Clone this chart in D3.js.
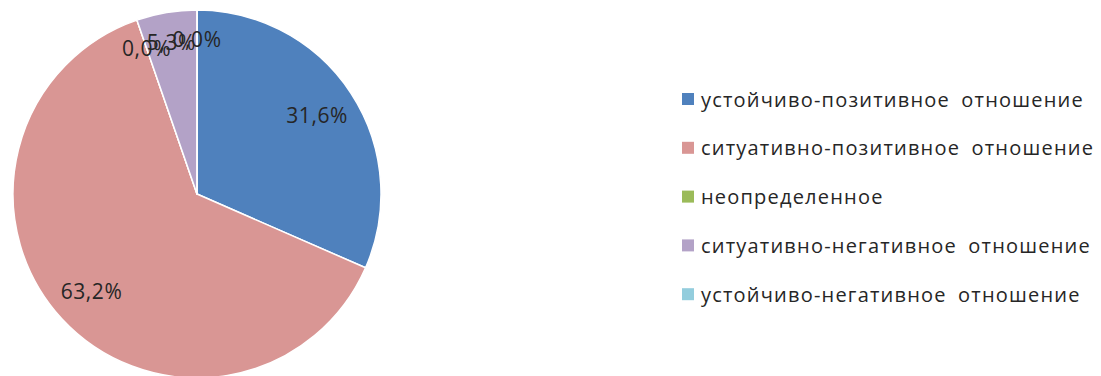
<!DOCTYPE html>
<html>
<head>
<meta charset="utf-8">
<script src="https://cdn.jsdelivr.net/npm/d3@7"></script>
<style>
  html, body { margin: 0; padding: 0; background: #fff; }
  svg { display: block; }
</style>
</head>
<body>
<svg id="chart" width="1101" height="376"></svg>
<script>
// Distribution of attitude types (share of respondents, %)
const categories = [
  "устойчиво-позитивное отношение",
  "ситуативно-позитивное отношение",
  "неопределенное",
  "ситуативно-негативное отношение",
  "устойчиво-негативное отношение"
];
const values = [31.6, 63.2, 0.0, 5.3, 0.0];
const colors = ["#4F81BD", "#D99694", "#9BBB59", "#B3A2C7", "#93CDDD"];

const width = 1101, height = 376;
const cx = 197, cy = 194, radius = 184;

const svg = d3.select("#chart");
const fmt = v => d3.format(".1f")(v).replace(".", ",") + "%";

const pie = d3.pie().sort(null).value(d => d.value);
const data = categories.map((c, i) => ({ name: c, value: values[i], color: colors[i] }));
const arcs = pie(data);

const arc = d3.arc().innerRadius(0).outerRadius(radius);

const g = svg.append("g").attr("transform", `translate(${cx},${cy})`);

g.selectAll("path.slice")
  .data(arcs)
  .join("path")
  .attr("class", "slice")
  .attr("d", arc)
  .attr("fill", d => d.data.color)
  .attr("stroke", "#fff")
  .attr("stroke-width", 1.5)
  .attr("stroke-linejoin", "round");

// data labels: large slices sit deeper inside, thin ones near the rim
const labelArc = d => {
  const k = d.data.value < 10 ? 0.84 : 0.78;
  return d3.arc().innerRadius(radius * k).outerRadius(radius * k).centroid(d);
};

g.selectAll("text.lbl")
  .data(arcs)
  .join("text")
  .attr("class", "lbl")
  .attr("x", d => labelArc(d)[0])
  .attr("y", d => labelArc(d)[1])
  .attr("text-anchor", "middle")
  .attr("dominant-baseline", "central")
  .attr("font-family", "'Open Sans', sans-serif")
  .attr("font-size", 21)
  .attr("letter-spacing", 0.6)
  .attr("fill", "#262626")
  .text(d => fmt(d.data.value));

// legend
const legend = svg.append("g").attr("transform", "translate(682,99)");
const rowH = 48.8;
const items = legend.selectAll("g.item")
  .data(data)
  .join("g")
  .attr("class", "item")
  .attr("transform", (d, i) => `translate(0,${i * rowH})`);

items.append("rect")
  .attr("x", 0)
  .attr("y", -6)
  .attr("width", 12)
  .attr("height", 12)
  .attr("fill", d => d.color);

items.append("text")
  .attr("x", 19)
  .attr("y", 0)
  .attr("dominant-baseline", "central")
  .attr("font-family", "'Open Sans', sans-serif")
  .attr("font-size", 20)
  .attr("letter-spacing", 1.2)
  .attr("word-spacing", 5)
  .attr("fill", "#262626")
  .text(d => d.name);
</script>
</body>
</html>
